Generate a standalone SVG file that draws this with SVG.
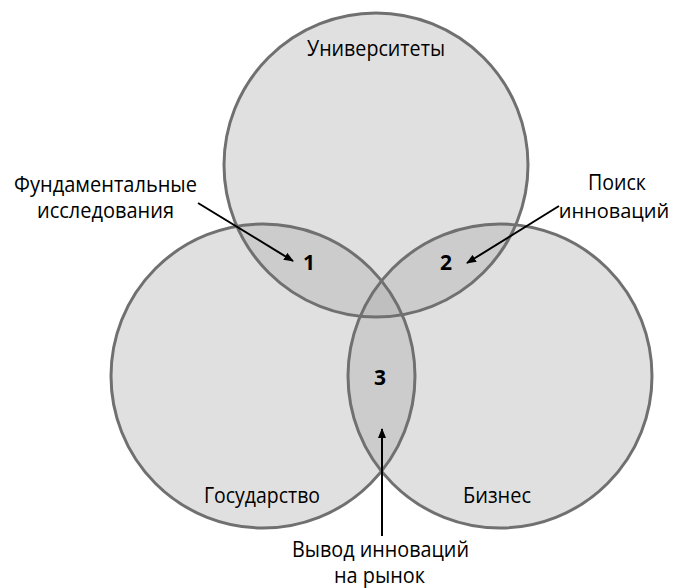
<svg xmlns="http://www.w3.org/2000/svg" width="676" height="588" viewBox="0 0 676 588">
<style>
.fill{fill:#a8a8a8;fill-opacity:0.355;stroke:none}
.ring{fill:none;stroke:#707070;stroke-width:3}
text{font-family:"Open Sans","Noto Sans","Liberation Sans",sans-serif;font-size:21px;fill:#000;text-anchor:middle}
.num{font-weight:bold}
.arr{stroke:#000;stroke-width:2;fill:none;marker-end:url(#ah)}
</style>
<defs>
<marker id="ah" markerWidth="10" markerHeight="8" refX="9" refY="4" orient="auto" markerUnits="userSpaceOnUse">
<path d="M0,0 L10,4 L0,8 Z" fill="#000"/>
</marker>
</defs>
<rect width="676" height="588" fill="#fff"/>
<g id="fills">
<circle class="fill" cx="376" cy="165" r="152"/>
<circle class="fill" cx="263" cy="376" r="152"/>
<circle class="fill" cx="500" cy="376" r="152"/>
</g>
<g id="universities">
<circle class="ring" cx="376" cy="165" r="152"/>
<text x="376" y="56" textLength="138" lengthAdjust="spacingAndGlyphs">Университеты</text>
</g>
<g id="government">
<circle class="ring" cx="263" cy="376" r="152"/>
<text x="262" y="503" textLength="116" lengthAdjust="spacingAndGlyphs">Государство</text>
</g>
<g id="business">
<circle class="ring" cx="500" cy="376" r="152"/>
<text x="497" y="503" textLength="68" lengthAdjust="spacingAndGlyphs">Бизнес</text>
</g>
<g id="zone1"><text class="num" x="309" y="270">1</text></g>
<g id="zone2"><text class="num" x="446" y="270">2</text></g>
<g id="zone3"><text class="num" x="380" y="385">3</text></g>
<g id="label-fundamental">
<text x="105.5" y="192" textLength="183" lengthAdjust="spacingAndGlyphs">Фундаментальные</text>
<text x="105.5" y="218" textLength="137" lengthAdjust="spacingAndGlyphs">исследования</text>
</g>
<g id="label-search">
<text x="617" y="190" textLength="58" lengthAdjust="spacingAndGlyphs">Поиск</text>
<text x="614" y="218" style="font-size:20px">инноваций</text>
</g>
<g id="label-market">
<text x="380.5" y="557" textLength="177" lengthAdjust="spacingAndGlyphs">Вывод инноваций</text>
<text x="379.5" y="583" textLength="91" lengthAdjust="spacingAndGlyphs">на рынок</text>
</g>
<g id="connectors">
<line class="arr" x1="559" y1="206" x2="467" y2="263"/>
<line class="arr" x1="198" y1="203" x2="293" y2="261"/>
<line class="arr" x1="382" y1="536" x2="382" y2="429"/>
</g>
</svg>
